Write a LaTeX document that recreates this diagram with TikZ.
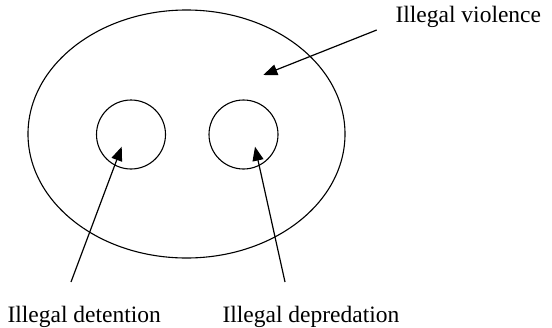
\documentclass[tikz,border=0pt]{standalone}
\usepackage{fontspec}
\setmainfont{Liberation Serif}
\usetikzlibrary{shapes.geometric,arrows.meta}

\begin{document}
\begin{tikzpicture}[x=1pt,y=-1pt,
    line width=1.1pt,
    ring/.style={draw,circle,inner sep=0pt,minimum size=69pt},
    lbl/.style={inner sep=0pt,anchor=base west,font=\fontsize{23.5}{28}\selectfont},
    pointer/.style={-{Triangle[length=14pt,width=11pt]},line width=1.2pt}]
  \useasboundingbox (0,0) rectangle (552,327);
  % outer set and the two inner sets
  \node[draw,ellipse,inner sep=0pt,minimum width=317pt,minimum height=248pt] (violence) at (186.5,134) {};
  \node[ring] (detention) at (131,134.5) {};
  \node[ring] (depredation) at (243.5,134.5) {};
  % labels
  \node[lbl] (violencelbl) at (395,22) {Illegal violence};
  \node[lbl] (detentionlbl) at (7,322) {Illegal detention};
  \node[lbl] (depredationlbl) at (222,322) {Illegal depredation};
  % arrow ends
  \coordinate (violencefoot) at (376.7,30);
  \coordinate (violencetip) at (263.3,75);
  \coordinate (detentionfoot) at (71,282);
  \coordinate (detentiontip) at (121.7,146.7);
  \coordinate (depredationfoot) at (285,282);
  \coordinate (depredationtip) at (255,146.7);
  \draw[pointer] (violencefoot) -- (violencetip);
  \draw[pointer] (detentionfoot) -- (detentiontip);
  \draw[pointer] (depredationfoot) -- (depredationtip);
\end{tikzpicture}
\end{document}
